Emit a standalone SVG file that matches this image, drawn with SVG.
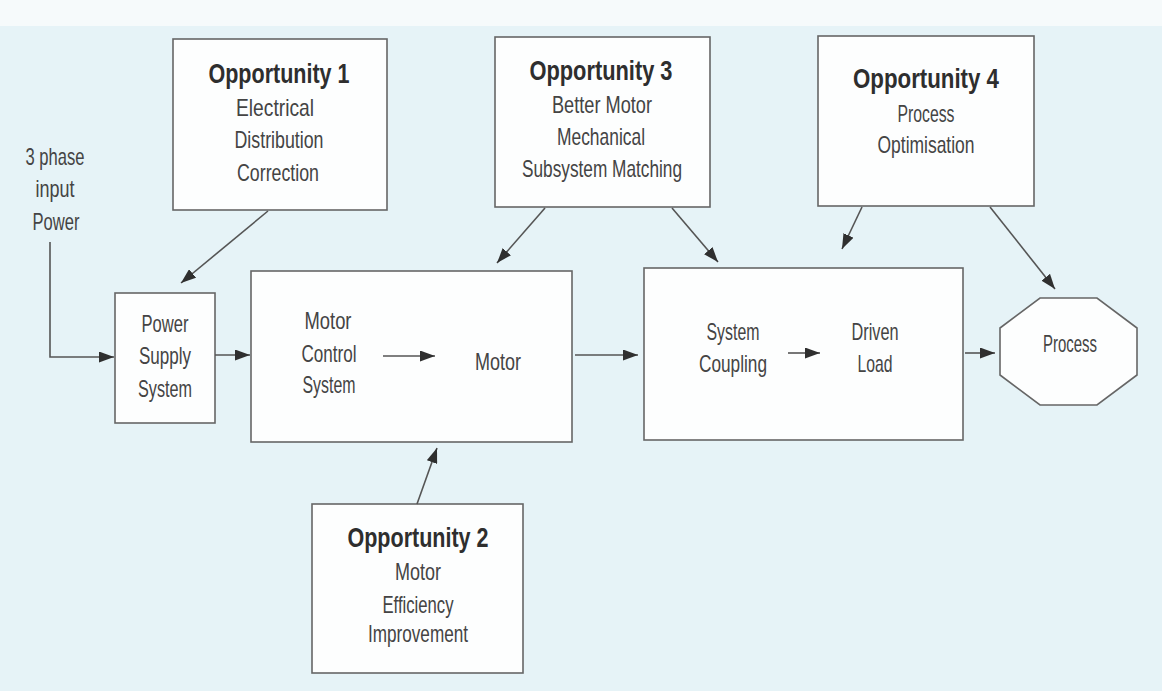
<svg xmlns="http://www.w3.org/2000/svg" width="1162" height="691" viewBox="0 0 1162 691">
<defs>
<marker id="ah" viewBox="0 0 15 11" refX="15" refY="5.5" markerWidth="15" markerHeight="11" markerUnits="userSpaceOnUse" orient="auto">
<path d="M0,0 L15,5.5 L0,11 Z" fill="#2f2f2f"/>
</marker>
<style>
.box{fill:#fdfefe;stroke:#666;stroke-width:1.6}
.t{font-family:"Liberation Sans",Arial,sans-serif;font-size:24px;fill:#444;text-anchor:middle}
.b{font-family:"Liberation Sans",Arial,sans-serif;font-size:28px;font-weight:bold;fill:#2e2e2e;text-anchor:middle}
.c{fill:none;stroke:#555;stroke-width:1.6;marker-end:url(#ah)}
</style>
</defs>
<rect x="0" y="0" width="1162" height="691" fill="#e6f3f7"/>
<rect x="0" y="0" width="1162" height="26" fill="#f6fafb"/>

<g id="input">
<text class="t" x="55" y="165" textLength="59" lengthAdjust="spacingAndGlyphs">3 phase</text>
<text class="t" x="55" y="197" textLength="39" lengthAdjust="spacingAndGlyphs">input</text>
<text class="t" x="56" y="230" textLength="47" lengthAdjust="spacingAndGlyphs">Power</text>
</g>

<g id="opp1">
<rect class="box" x="173" y="39" width="214" height="171"/>
<text class="b" x="279" y="83" textLength="141" lengthAdjust="spacingAndGlyphs">Opportunity 1</text>
<text class="t" x="275" y="116" textLength="78" lengthAdjust="spacingAndGlyphs">Electrical</text>
<text class="t" x="279" y="148" textLength="89" lengthAdjust="spacingAndGlyphs">Distribution</text>
<text class="t" x="278" y="181" textLength="82" lengthAdjust="spacingAndGlyphs">Correction</text>
</g>

<g id="opp3">
<rect class="box" x="495" y="37" width="215" height="170"/>
<text class="b" x="601" y="80" textLength="143" lengthAdjust="spacingAndGlyphs">Opportunity 3</text>
<text class="t" x="602" y="113" textLength="100" lengthAdjust="spacingAndGlyphs">Better Motor</text>
<text class="t" x="601" y="145" textLength="88" lengthAdjust="spacingAndGlyphs">Mechanical</text>
<text class="t" x="602" y="177" textLength="160" lengthAdjust="spacingAndGlyphs">Subsystem Matching</text>
</g>

<g id="opp4">
<rect class="box" x="818" y="36" width="216" height="170"/>
<text class="b" x="926" y="88" textLength="146" lengthAdjust="spacingAndGlyphs">Opportunity 4</text>
<text class="t" x="926" y="122" textLength="57" lengthAdjust="spacingAndGlyphs">Process</text>
<text class="t" x="926" y="153" textLength="97" lengthAdjust="spacingAndGlyphs">Optimisation</text>
</g>

<g id="pss">
<rect class="box" x="115" y="293" width="100" height="130"/>
<text class="t" x="165" y="332" textLength="47" lengthAdjust="spacingAndGlyphs">Power</text>
<text class="t" x="165" y="364" textLength="52" lengthAdjust="spacingAndGlyphs">Supply</text>
<text class="t" x="165" y="397" textLength="54" lengthAdjust="spacingAndGlyphs">System</text>
</g>

<g id="motorbox">
<rect class="box" x="251" y="271" width="321" height="171"/>
<text class="t" x="328" y="329" textLength="47" lengthAdjust="spacingAndGlyphs">Motor</text>
<text class="t" x="329" y="362" textLength="55" lengthAdjust="spacingAndGlyphs">Control</text>
<text class="t" x="329" y="393" textLength="53" lengthAdjust="spacingAndGlyphs">System</text>
<text class="t" x="498" y="370" textLength="46" lengthAdjust="spacingAndGlyphs">Motor</text>
</g>

<g id="loadbox">
<rect class="box" x="644" y="268" width="319" height="172"/>
<text class="t" x="733" y="340" textLength="53" lengthAdjust="spacingAndGlyphs">System</text>
<text class="t" x="733" y="372" textLength="68" lengthAdjust="spacingAndGlyphs">Coupling</text>
<text class="t" x="875" y="340" textLength="47" lengthAdjust="spacingAndGlyphs">Driven</text>
<text class="t" x="875" y="372" textLength="35" lengthAdjust="spacingAndGlyphs">Load</text>
</g>

<g id="process">
<polygon class="box" points="1040,298 1097,298 1137,328 1137,375 1097,405 1040,405 1000,375 1000,328"/>
<text class="t" x="1070" y="352" textLength="54" lengthAdjust="spacingAndGlyphs">Process</text>
</g>

<g id="opp2">
<rect class="box" x="312" y="504" width="211" height="169"/>
<text class="b" x="418" y="547" textLength="141" lengthAdjust="spacingAndGlyphs">Opportunity 2</text>
<text class="t" x="418" y="580" textLength="46" lengthAdjust="spacingAndGlyphs">Motor</text>
<text class="t" x="418" y="613" textLength="71" lengthAdjust="spacingAndGlyphs">Efficiency</text>
<text class="t" x="418" y="642" textLength="100" lengthAdjust="spacingAndGlyphs">Improvement</text>
</g>

<g id="connectors">
<path class="c" d="M50,242 L50,357 L114,357"/>
<path class="c" d="M215,355 L250,355"/>
<path class="c" d="M268,211 L181,283"/>
<path class="c" d="M545,208 L497,263"/>
<path class="c" d="M672,208 L718,262"/>
<path class="c" d="M862,207 L842,249"/>
<path class="c" d="M990,207 L1055,289"/>
<path class="c" d="M417,504 L437,448"/>
<path class="c" d="M383,356 L435,356"/>
<path class="c" d="M575,355 L638,355"/>
<path class="c" d="M788,353 L820,353"/>
<path class="c" d="M965,353 L995,353"/>
</g>
</svg>
